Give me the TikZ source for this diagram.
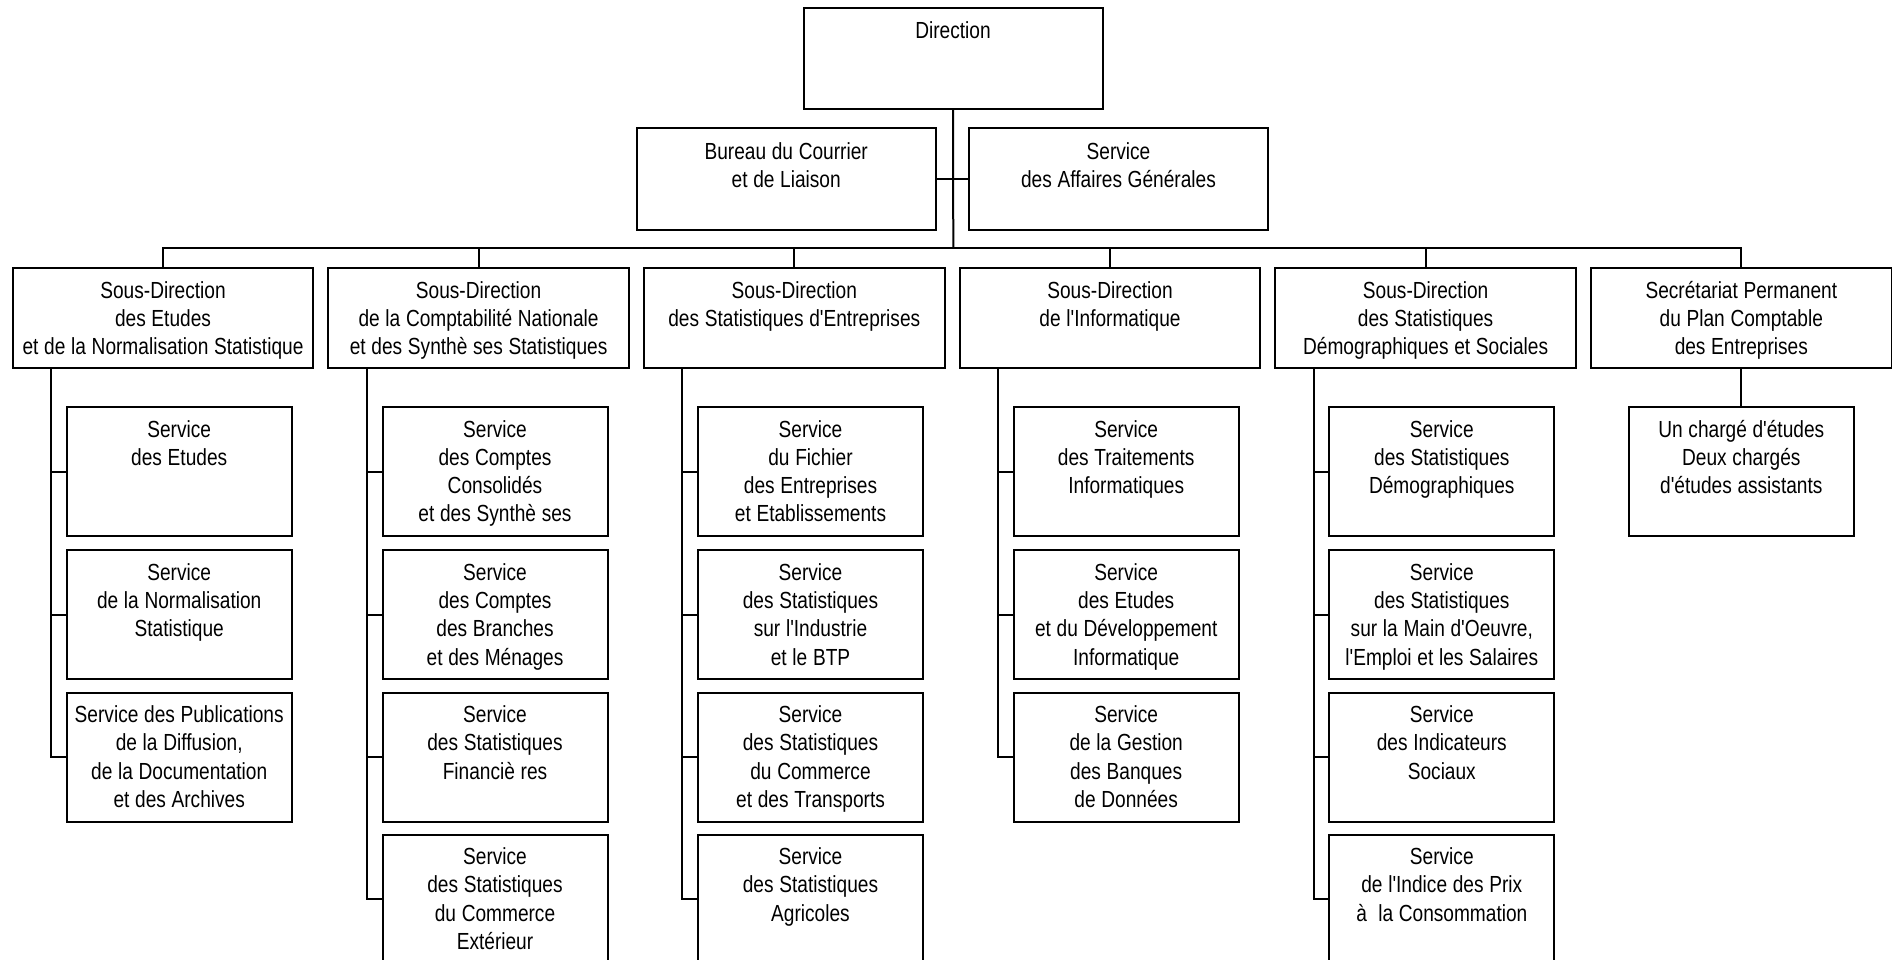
\documentclass[tikz,border=0pt]{standalone}
\usepackage{fontspec}
\setmainfont{Liberation Sans}[FakeStretch=0.82,Ligatures=TeXOff]
\tikzset{
    unit/.style={draw, line width=2pt, anchor=north west, inner sep=0pt, outer sep=0pt,
        align=center, font=\fontsize{23.3}{28.3}\selectfont,
        execute at begin node={\spaceskip=5.7pt\relax}},
    head/.style={unit, text width=299pt, text height=31pt, text depth=70.5pt},
    sdir/.style={unit, text width=300.6pt, text height=30pt, text depth=70pt},
    serv/.style={unit, text width=225pt, text height=30pt, text depth=99pt},
    edge/.style={-, line width=2pt, draw=black},
}
\begin{document}
\begin{tikzpicture}[x=1pt,y=-1pt]
\path[use as bounding box, clip] (0,0) rectangle (1892,960);
% direction
\node[head] (dir) at (803.5,8) {Direction};
\node[head] (bureau) at (636.7,128.3) {Bureau du Courrier\\et de Liaison};
\node[head] (affaires) at (969,128.3) {Service\\des Affaires Générales};
% sous-directions
\node[sdir] (sd1) at (12.7,268.3) {Sous-Direction\\des Etudes\\et de la Normalisation Statistique};
\node[sdir] (sd2) at (328.3,268.3) {Sous-Direction\\de la Comptabilité Nationale\\et des Synthè ses Statistiques};
\node[sdir] (sd3) at (644,268.3) {Sous-Direction\\des Statistiques d'Entreprises};
\node[sdir] (sd4) at (959.7,268.3) {Sous-Direction\\de l'Informatique};
\node[sdir] (sd5) at (1275.3,268.3) {Sous-Direction\\des Statistiques\\Démographiques et Sociales};
\node[sdir] (sd6) at (1591,268.3) {Secrétariat Permanent\\du Plan Comptable\\des Entreprises};
% services
\node[serv] (s11) at (66.7,407) {Service\\des Etudes};
\node[serv] (s12) at (66.7,550.3) {Service\\de la Normalisation\\Statistique};
\node[serv] (s13) at (66.7,692.5) {Service des Publications\\de la Diffusion,\\de la Documentation\\et des Archives};
\node[serv] (s21) at (382.5,407) {Service\\des Comptes\\Consolidés\\et des Synthè ses};
\node[serv] (s22) at (382.5,550.3) {Service\\des Comptes\\des Branches\\et des Ménages};
\node[serv] (s23) at (382.5,692.5) {Service\\des Statistiques\\Financiè res};
\node[serv] (s24) at (382.5,834.5) {Service\\des Statistiques\\du Commerce\\Extérieur};
\node[serv] (s31) at (698,407) {Service\\du Fichier\\des Entreprises\\et Etablissements};
\node[serv] (s32) at (698,550.3) {Service\\des Statistiques\\sur l'Industrie\\et le BTP};
\node[serv] (s33) at (698,692.5) {Service\\des Statistiques\\du Commerce\\et des Transports};
\node[serv] (s34) at (698,834.5) {Service\\des Statistiques\\Agricoles};
\node[serv] (s41) at (1013.7,407) {Service\\des Traitements\\Informatiques};
\node[serv] (s42) at (1013.7,550.3) {Service\\des Etudes\\et du Développement\\Informatique};
\node[serv] (s43) at (1013.7,692.5) {Service\\de la Gestion\\des Banques\\de Données};
\node[serv] (s51) at (1329.3,407) {Service\\des Statistiques\\Démographiques};
\node[serv] (s52) at (1329.3,550.3) {Service\\des Statistiques\\sur la Main d'Oeuvre,\\l'Emploi et les Salaires};
\node[serv] (s53) at (1329.3,692.5) {Service\\des Indicateurs\\Sociaux};
\node[serv] (s54) at (1329.3,834.5) {Service\\de l'Indice des Prix\\à\ \ la Consommation};
\node[serv] (s61) at (1628.8,407) {Un chargé d'études\\Deux chargés\\d'études assistants};
% liaisons
\coordinate (bus) at (953.3,248.3);
\draw[edge] (dir.south) -- (bus);
\draw[edge] (bureau.east) -- (affaires.west);
\draw[edge] (sd1.north) |- (bus) -| (sd6.north);
\draw[edge] (sd2.north) -- (sd2.north |- bus);
\draw[edge] (sd3.north) -- (sd3.north |- bus);
\draw[edge] (sd4.north) -- (sd4.north |- bus);
\draw[edge] (sd5.north) -- (sd5.north |- bus);
\coordinate (l1) at ([xshift=38.3pt]sd1.south west);
\coordinate (l2) at ([xshift=38.3pt]sd2.south west);
\coordinate (l3) at ([xshift=38.3pt]sd3.south west);
\coordinate (l4) at ([xshift=38.3pt]sd4.south west);
\coordinate (l5) at ([xshift=38.3pt]sd5.south west);
\draw[edge] (l1) |- (s11.west) (l1) |- (s12.west) (l1) |- (s13.west);
\draw[edge] (l2) |- (s21.west) (l2) |- (s22.west) (l2) |- (s23.west) (l2) |- (s24.west);
\draw[edge] (l3) |- (s31.west) (l3) |- (s32.west) (l3) |- (s33.west) (l3) |- (s34.west);
\draw[edge] (l4) |- (s41.west) (l4) |- (s42.west) (l4) |- (s43.west);
\draw[edge] (l5) |- (s51.west) (l5) |- (s52.west) (l5) |- (s53.west) (l5) |- (s54.west);
\draw[edge] (sd6.south) -- (s61.north);
\end{tikzpicture}
\end{document}
